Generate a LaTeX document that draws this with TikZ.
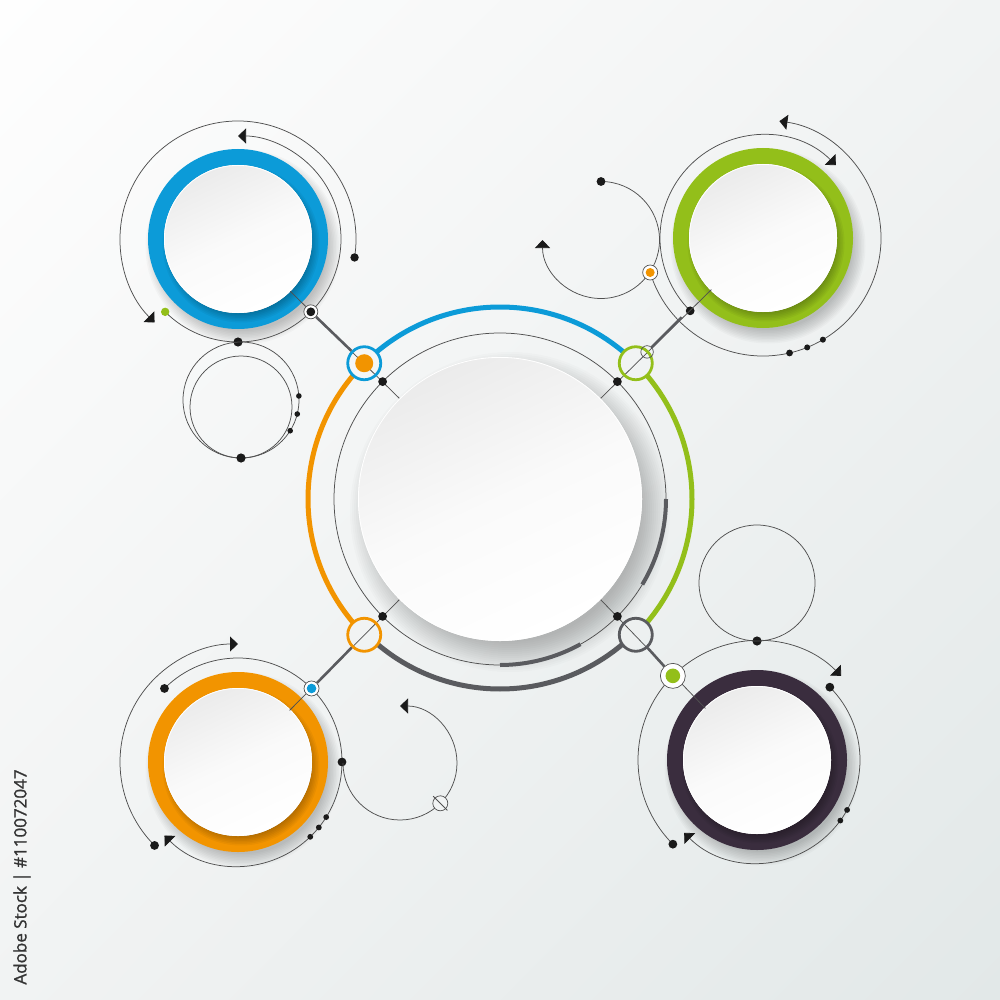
\documentclass[tikz,border=0pt]{standalone}
\usepackage{fontspec}
\setsansfont{Open Sans}
\newfontfamily\creditfont{Open Sans}[FakeBold=1.2]
\usetikzlibrary{arrows.meta,shadings}
\definecolor{cblue}{HTML}{0C9BD8}
\definecolor{corange}{HTML}{F29400}
\definecolor{cgreen}{HTML}{93BF1A}
\definecolor{cpurple}{HTML}{3A2D3E}
\definecolor{cdgray}{HTML}{5A5B5F}
\definecolor{cthin}{HTML}{505050}
\definecolor{cdot}{HTML}{1A1A1A}
\definecolor{bgA}{HTML}{FEFEFE}
\definecolor{bgC}{HTML}{F1F3F3}
\definecolor{bgB}{HTML}{E2E8E8}
\definecolor{txtc}{HTML}{333333}
\definecolor{discTop}{HTML}{EBEBEB}
\tikzset{
  thinline/.style={draw=cthin, line width=0.75pt},
  arrowline/.style={thinline, -{Triangle[length=8pt,width=15pt,color=cdot]}},
  thickconn/.style={draw=cdgray, line width=2.6pt},
  mainnode/.style={circle, line width=2.8pt, minimum size=33pt, inner sep=0pt},
  satnode/.style={circle, draw=cthin, line width=0.7pt, fill=white, inner sep=0pt},
}
\newcommand\SatRing[2]{%
  \foreach \k in {0,...,9}{\fill[black,opacity=0.022] ([shift={(5,-8)}]#1) circle ({84+1.5*\k});}
  \draw[#2,line width=16pt] (#1) circle (82);
  \foreach \k in {0,...,7}{\fill[black,opacity=0.04] ([shift={(3,-5)}]#1) circle ({68+1.5*\k});}
  \shade[top color=discTop,bottom color=white,middle color=white!98!black,shading angle=25] (#1) circle (74);
  \draw[white,line width=0.8pt] (#1) circle (73.6);
}
\begin{document}
\begin{tikzpicture}[x=1pt,y=1pt]
\useasboundingbox (0,0) rectangle (1000,-1000);
\shade[upper left=bgA, upper right=bgC, lower left=bgC, lower right=bgB] (0,0) rectangle (1000,-1000);

% centres
\coordinate (cC) at (500,-499);
\coordinate (cB) at (238,-239);
\coordinate (cG) at (763,-238);
\coordinate (cO) at (238,-762);
\coordinate (cP) at (757,-760);
\coordinate (cL1) at (241,-400);
\coordinate (cL1i) at (241,-407);
\coordinate (cL2) at (601,-240);
\coordinate (cL3) at (400,-763);
\coordinate (cL4) at (757,-583);

% central shadow and thin circle
\foreach \k in {0,...,15}{\fill[black,opacity=0.015] ([shift={(10,-13)}]cC) circle ({130+2*\k});}
\draw[thinline] (cC) circle (166);
\draw[cdgray,line width=4pt] ([shift={(-31:166)}]cC) arc[start angle=-31,end angle=0,radius=166];
\draw[cdgray,line width=4pt] ([shift={(-90:166)}]cC) arc[start angle=-90,end angle=-61,radius=166];

% satellite rings
\SatRing{cB}{cblue}
\SatRing{cG}{cgreen}
\SatRing{cO}{corange}
\SatRing{cP}{cpurple}

% thin arcs: blue
\draw[arrowline] ([shift={(-9:118)}]cB) arc[start angle=-9,end angle=225,radius=118];
\draw[arrowline] ([shift={(225:103)}]cB) arc[start angle=225,end angle=450,radius=103];
\fill[cdot] ([shift={(-9:118)}]cB) circle (4.2);
\fill[cgreen] ([shift={(225:103)}]cB) circle (4.2);
\fill[cdot] ([shift={(270:103)}]cB) circle (4.6);
% loop under blue
\draw[thinline] (cL1) circle (58);
\draw[thinline] (cL1i) circle (51);
\fill[cdot] ([shift={(-90:58)}]cL1) circle (4.6);
\fill[cdot] ([shift={(4:58)}]cL1) circle (2.8);
\fill[cdot] ([shift={(-14:58)}]cL1) circle (2.8);
\fill[cdot] ([shift={(-32:58)}]cL1) circle (2.8);

% thin arcs: green
\draw[arrowline] ([shift={(225:103)}]cG) arc[start angle=225,end angle=45,radius=103];
\draw[arrowline] ([shift={(197:118)}]cG) arc[start angle=197,end angle=442,radius=118];
\fill[cdot] ([shift={(225:103)}]cG) circle (4.4);
\fill[cdot] ([shift={(283:118)}]cG) circle (3.4);
\fill[cdot] ([shift={(292:118)}]cG) circle (3);
\fill[cdot] ([shift={(300.5:118)}]cG) circle (3);
\draw[arrowline] ([shift={(90:58.5)}]cL2) arc[start angle=90,end angle=-180,radius=58.5];
\fill[cdot] ([shift={(90:58.5)}]cL2) circle (4.4);

% thin arcs: orange
\draw[arrowline] ([shift={(135:104)}]cO) arc[start angle=135,end angle=-135,radius=104];
\draw[arrowline] ([shift={(225:118)}]cO) arc[start angle=225,end angle=90,radius=118];
\fill[cdot] ([shift={(135:104)}]cO) circle (4.4);
\fill[cdot] ([shift={(225:118)}]cO) circle (4.4);
\fill[cdot] ([shift={(0:104)}]cO) circle (4.4);
\fill[cdot] ([shift={(-32:104)}]cO) circle (2.9);
\fill[cdot] ([shift={(-39:104)}]cO) circle (2.9);
\fill[cdot] ([shift={(-46:104)}]cO) circle (2.9);
\draw[arrowline] ([shift={(180:57)}]cL3) arc[start angle=180,end angle=450,radius=57];
\node[circle, draw=cthin, line width=0.7pt, fill=bgC, minimum size=15pt, inner sep=0pt] (slash) at ([shift={(315:57)}]cL3) {};
\draw[thinline] ([shift={(135:10)}]slash.center) -- ([shift={(-45:10)}]slash.center);

% thin arcs: purple
\draw[arrowline] ([shift={(225:119)}]cP) arc[start angle=225,end angle=45,radius=119];
\draw[arrowline] ([shift={(45:103)}]cP) arc[start angle=45,end angle=-135,radius=103];
\fill[cdot] ([shift={(225:119)}]cP) circle (4.4);
\fill[cdot] ([shift={(90:119)}]cP) circle (4.6);
\fill[cdot] ([shift={(45:103)}]cP) circle (4.4);
\fill[cdot] ([shift={(-29:103)}]cP) circle (2.9);
\fill[cdot] ([shift={(-36:103)}]cP) circle (2.9);
\draw[thinline] (cL4) circle (58);

% central coloured arcs
\draw[cblue,line width=5pt] ([shift={(50:192)}]cC) arc[start angle=50,end angle=130,radius=192];
\draw[corange,line width=5pt] ([shift={(140:192)}]cC) arc[start angle=140,end angle=220,radius=192];
\draw[cdgray,line width=5pt] ([shift={(230:190)}]cC) arc[start angle=230,end angle=310,radius=190];
\draw[cgreen,line width=5pt] ([shift={(-40:192)}]cC) arc[start angle=-40,end angle=40,radius=192];

% diagonal thin lines
\draw[thinline] ([shift={(135:142)}]cC) -- ([shift={(-45:74)}]cB);
\draw[thinline] ([shift={(45:142)}]cC) -- ([shift={(225:73)}]cG);
\draw[thinline] ([shift={(225:142)}]cC) -- ([shift={(45:73)}]cO);
\draw[thinline] ([shift={(315:142)}]cC) -- ([shift={(135:73)}]cP);

% main nodes
\node[mainnode, draw=cblue] (nTL) at ([shift={(135:192)}]cC) {};
\node[mainnode, draw=cgreen] (nTR) at ([shift={(45:192)}]cC) {};
\node[mainnode, draw=corange] (nBL) at ([shift={(225:192)}]cC) {};
\node[mainnode, draw=cdgray] (nBR) at ([shift={(315:192)}]cC) {};
\fill[corange] (nTL.center) circle (9);

% satellite nodes
\node[satnode, minimum size=14pt] (sTL) at ([shift={(315:103)}]cB) {};
\node[satnode, minimum size=15pt] (sBL) at ([shift={(45:104)}]cO) {};
\node[satnode, minimum size=25pt] (sBR) at ([shift={(135:119)}]cP) {};
\node[satnode, minimum size=15pt] (sTRo) at ([shift={(197:118)}]cG) {};
\node[satnode, minimum size=12.5pt, fill=none] (sTR) at ([shift={(45:208)}]cC) {};
\coordinate (tB) at ([shift={(45:257)}]cC);
\fill[cdot] (sTL.center) circle (4.4);
\fill[cblue] (sBL.center) circle (4.8);
\fill[cgreen] (sBR.center) circle (7.3);
\fill[corange] (sTRo.center) circle (4.5);

% thick connectors
\draw[thickconn] (nTL) -- (sTL);
\draw[thickconn] (nBL) -- (sBL);
\draw[thickconn] (nBR) -- (sBR);
\draw[thickconn] (sTR) -- (tB);

% central white disc
\shade[top color=discTop,bottom color=white,middle color=white!98!black,shading angle=25] (cC) circle (142);
\draw[white,line width=0.8pt] (cC) circle (141.6);

% dots on the central thin circle
\foreach \a in {45,135,225,315}{\fill[cdot] ([shift={(\a:166)}]cC) circle (4.4);}

% credit text
\node[rotate=90, font=\creditfont\fontsize{17}{20}\selectfont, text=txtc] (credit) at (22,-877) {Adobe Stock | \#110072047};
\end{tikzpicture}
\end{document}
